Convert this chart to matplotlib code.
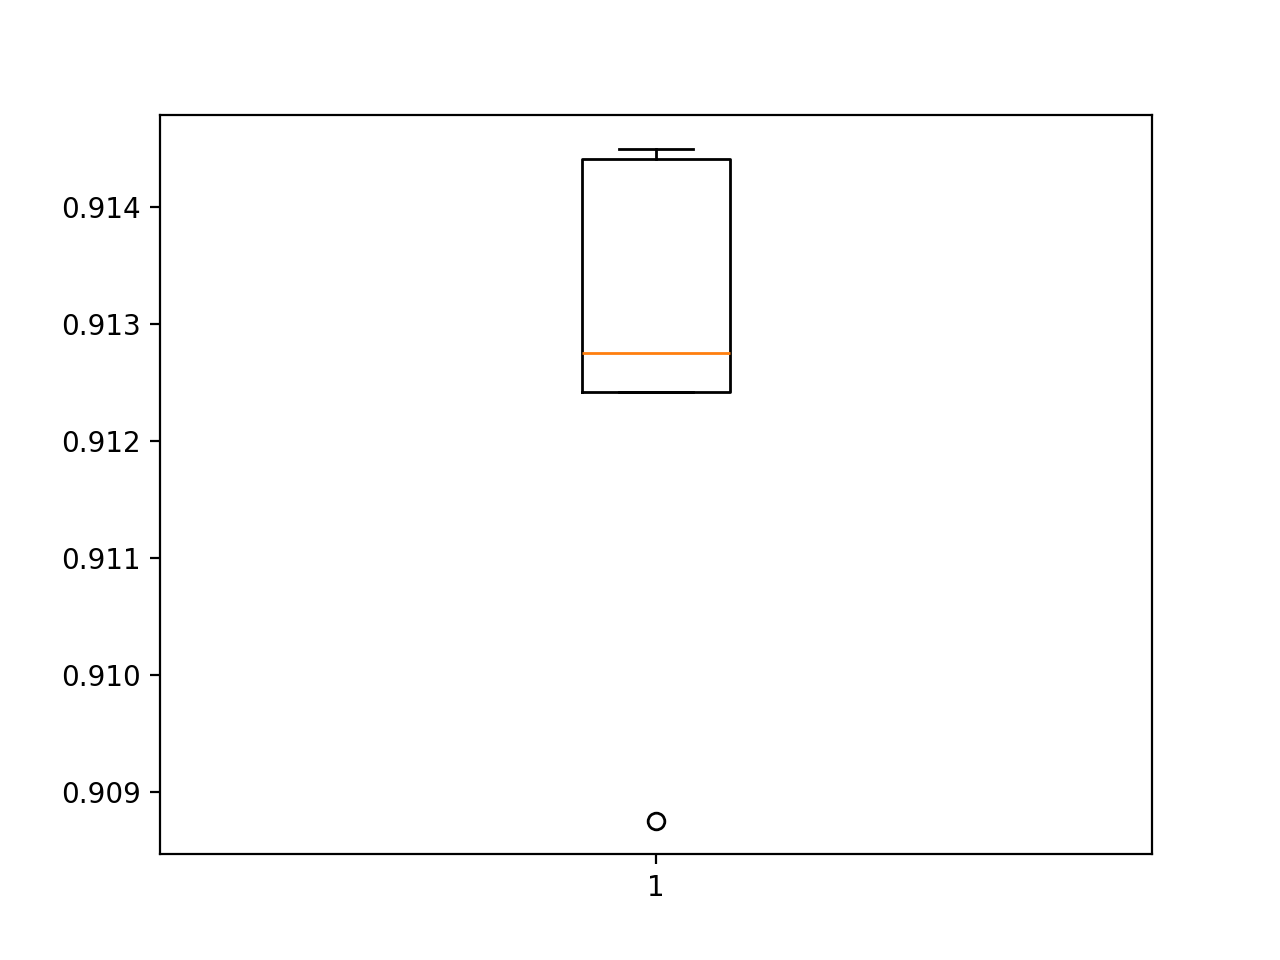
import matplotlib
matplotlib.use("Agg")
import matplotlib.pyplot as plt

# scores
scores = [0.90875, 0.91242, 0.91275, 0.91441, 0.91450]

fig, ax = plt.subplots(figsize=(6.4, 4.8), dpi=200)
ax.boxplot(scores)
fig.savefig("out.png")
